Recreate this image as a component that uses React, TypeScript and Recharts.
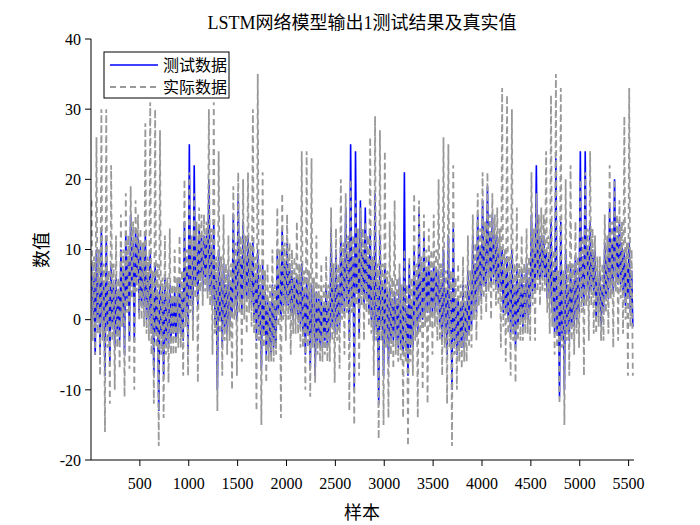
import React from "react";
import { LineChart, Line, XAxis, YAxis, Customized } from "recharts";

// Values, one entry per 50-sample block.
// Each block has a spike high, a spike low and the dense core band for both series.
const actualHigh = [
  17, 26, 30, 30, 22, 12, 15, 18, 19, 17,
  13, 28, 31, 30, 27, 12, 13, 10, 12, 20,
  21, 18, 16, 15, 30, 31, 24, 15,
  12, 19, 21, 20, 21, 30, 35, 21, 8, 10,
  16, 18, 15, 10, 14, 24, 24, 23, 12, 8,
  9, 16, 13, 20, 18, 20, 17, 16,
  14, 26, 29, 27, 24, 14, 17, 8, 10, 9,
  18, 17, 15, 13, 15, 20, 26, 25, 22, 8,
  9, 12, 15, 18, 21, 21, 18, 16,
  33, 32, 30, 16, 12, 13, 21, 18, 16, 24,
  32, 35, 33, 20, 22, 14, 20, 21, 24, 12,
  9, 15, 22, 20, 17, 29, 33,
];
const actualLow = [
  -5, -8, -16, -12, -10, -7, -11, -7, -10, 0,
  -1, -3, -12, -18, -14, -9, -5, -4, -8, -8,
  -3, -9, 2, 3, -5, -13, -8, -5,
  -10, -8, -6, -2, -1, -13, -15, -9, -6, -5,
  -14, -3, -5, -2, -4, -10, -11, -9, -6, -5,
  -6, -9, -7, -5, -13, -15, -8, -3,
  -1, -8, -17, -15, -14, -7, -6, -14, -18, -8,
  -14, -10, -12, -5, -3, -8, -12, -18, -10, -7,
  -6, -4, -3, 0, 1, 0, 2, -4,
  -6, -8, -9, -3, -2, -3, -3, 2, 4, -2,
  -5, -12, -15, -8, -5, -4, -8, -3, -2, -1,
  -3, -2, -4, -3, -2, -8, -8,
];
const actualCoreHigh = [
  9, 10, 8, 7, 8, 6, 10, 12, 14, 15,
  11, 9, 7, 8, 6, 6, 5, 6, 7, 10,
  12, 14, 15, 14, 13, 9, 9, 8,
  8, 11, 12, 12, 11, 9, 8, 7, 5, 5,
  10, 11, 11, 9, 8, 7, 7, 6, 5, 5,
  5, 8, 8, 11, 12, 12, 13, 13,
  12, 9, 8, 8, 7, 6, 6, 5, 5, 6,
  8, 9, 10, 10, 10, 8, 7, 7, 6, 5,
  5, 7, 11, 13, 14, 15, 15, 13,
  10, 9, 8, 8, 8, 9, 13, 15, 15, 12,
  10, 7, 7, 8, 8, 9, 12, 13, 13, 9,
  8, 12, 14, 15, 14, 11, 10,
];
const actualCoreLow = [
  -3, -2, -3, -4, -3, -4, -1, 1, 3, 4,
  0, -2, -5, -4, -5, -5, -5, -5, -4, -1,
  1, 3, 4, 4, 2, -2, -2, -3,
  -3, 0, 1, 0, 1, -2, -3, -4, -6, -6,
  -1, 0, 0, -2, -2, -4, -4, -4, -5, -6,
  -6, -3, -3, 0, 1, 1, 2, 2,
  1, -2, -3, -3, -4, -5, -5, -6, -6, -6,
  -3, -2, -1, -1, -1, -3, -4, -4, -5, -6,
  -6, -4, 0, 2, 3, 4, 4, 2,
  -1, -2, -3, -3, -3, -2, 2, 4, 4, 1,
  -1, -4, -4, -3, -3, -2, 1, 2, 2, -2,
  -3, 1, 3, 4, 3, 0, -1,
];
const testHigh = [
  8, 10, 13, 12, 8, 6, 10, 12, 15, 13,
  11, 12, 10, 8, 5, 6, 5, 4, 6, 14,
  25, 22, 13, 12, 20, 14, 10, 8,
  7, 15, 18, 14, 12, 11, 10, 8, 3, 5,
  10, 13, 11, 7, 6, 8, 6, 5, 4, 3,
  5, 13, 10, 12, 16, 25, 24, 17,
  16, 13, 18, 12, 8, 5, 4, 6, 21, 8,
  10, 16, 12, 9, 8, 7, 10, 12, 13, 3,
  5, 7, 12, 15, 17, 19, 15, 12,
  10, 9, 10, 8, 7, 8, 15, 22, 12, 10,
  14, 23, 14, 10, 8, 9, 24, 24, 14, 10,
  7, 11, 16, 20, 14, 10, 11,
];
const testLow = [
  -5, -5, -8, -6, -4, -3, -5, -3, -3, 1,
  2, 0, -8, -13, -8, -4, -2, -2, -3, -5,
  0, 2, 4, 4, 2, -10, -4, -2,
  1, 0, 1, 3, 2, -3, -7, -5, -5, -4,
  0, 2, 1, 1, -1, -5, -7, -8, -4, -3,
  -3, -2, -1, 1, -3, -10, -2, 2,
  1, -3, -12, -8, -6, -3, -4, -5, -8, -4,
  -2, 0, 1, 1, 2, -3, -5, -10, -5, -4,
  -3, -1, 1, 3, 4, 5, 5, 4,
  1, -2, -4, 0, 0, 1, 4, 5, 6, 3,
  -2, -11, -10, -3, -1, 1, 2, 3, 4, 2,
  1, 3, 4, 5, 4, 3, -1,
];
const testCoreHigh = [
  6, 6, 5, 5, 5, 4, 7, 9, 11, 12,
  8, 6, 4, 4, 4, 3, 3, 3, 4, 7,
  9, 11, 12, 12, 10, 6, 6, 5,
  5, 8, 9, 9, 9, 6, 5, 4, 2, 2,
  7, 8, 8, 6, 6, 4, 4, 4, 3, 2,
  2, 5, 5, 8, 9, 9, 10, 10,
  9, 6, 5, 5, 4, 3, 3, 2, 2, 2,
  5, 6, 7, 7, 7, 5, 4, 4, 3, 2,
  2, 4, 8, 10, 11, 12, 12, 10,
  7, 6, 5, 5, 5, 6, 10, 12, 12, 9,
  7, 4, 4, 5, 5, 6, 9, 10, 10, 6,
  5, 9, 11, 12, 11, 8, 7,
];
const testCoreLow = [
  0, 0, -1, -1, -1, -2, 1, 3, 5, 6,
  2, 0, -2, -2, -2, -3, -3, -3, -2, 1,
  3, 5, 6, 6, 4, 0, 0, -1,
  -1, 2, 3, 3, 3, 0, -1, -2, -4, -4,
  1, 2, 2, 0, 0, -2, -2, -2, -3, -4,
  -4, -1, -1, 2, 3, 3, 4, 4,
  3, 0, -1, -1, -2, -3, -3, -4, -4, -4,
  -1, 0, 1, 1, 1, -1, -2, -2, -3, -4,
  -4, -2, 2, 4, 5, 6, 6, 4,
  1, 0, -1, -1, -1, 0, 4, 6, 6, 3,
  1, -2, -2, -1, -1, 0, 3, 4, 4, 0,
  -1, 3, 5, 6, 5, 2, 1,
];

const BLOCK = 50;
const xTicks = [500, 1000, 1500, 2000, 2500, 3000, 3500, 4000, 4500, 5000, 5500];
const yTicks = [-20, -10, 0, 10, 20, 30, 40];

const rows: { x: number; test: number; actual: number }[] = [];
actualHigh.forEach((_, k) => {
  const s = k * BLOCK;
  rows.push({ x: s + 6, test: testHigh[k], actual: actualHigh[k] });
  rows.push({ x: s + 18, test: testCoreLow[k], actual: actualCoreLow[k] });
  rows.push({ x: s + 31, test: testCoreHigh[k], actual: actualCoreHigh[k] });
  rows.push({ x: s + 43, test: testLow[k], actual: actualLow[k] });
});

const FONT = "'Liberation Serif', 'Times New Roman', 'Noto Sans CJK SC', serif";
const GRAY = "#999999";
const BLUE = "#0000ff";

function Overlay() {
  return (
    <g fontFamily={FONT}>
      <text x={362} y={29} textAnchor="middle" fontSize={18} fill="#000">
        LSTM网络模型输出1测试结果及真实值
      </text>
      <text x={362} y={519} textAnchor="middle" fontSize={18} fill="#000">
        样本
      </text>
      <text
        x={0}
        y={0}
        transform="translate(48,250) rotate(-90)"
        textAnchor="middle"
        fontSize={18}
        fill="#000"
      >
        数值
      </text>
      <rect x={104} y={52} width={125} height={46} fill="#fff" stroke="#000" strokeWidth={1} />
      <line x1={110} y1={65} x2={158} y2={65} stroke={BLUE} strokeWidth={1.5} />
      <text x={163} y={70.5} fontSize={16} fill="#000">测试数据</text>
      <line x1={110} y1={87} x2={158} y2={87} stroke={GRAY} strokeWidth={1.8} strokeDasharray="6 4" />
      <text x={163} y={92.5} fontSize={16} fill="#000">实际数据</text>
    </g>
  );
}

export default function App() {
  return (
    <div style={{ position: "absolute", left: 0, top: 0, width: 700, height: 525, background: "#fff" }}>
      <LineChart
        width={700}
        height={525}
        data={rows}
        margin={{ top: 39, right: 66, bottom: 25, left: 41 }}
      >
        <XAxis
          dataKey="x"
          type="number"
          domain={[0, 5555]}
          ticks={xTicks}
          height={40}
          tickSize={6}
          tickMargin={12}
          axisLine={{ stroke: "#000", strokeWidth: 1 }}
          tickLine={{ stroke: "#000", strokeWidth: 1 }}
          tick={{ fill: "#000", fontSize: 16, fontFamily: FONT }}
          allowDataOverflow
        />
        <YAxis
          type="number"
          domain={[-20, 40]}
          ticks={yTicks}
          width={50}
          tickSize={6}
          tickMargin={4}
          axisLine={{ stroke: "#000", strokeWidth: 1 }}
          tickLine={{ stroke: "#000", strokeWidth: 1 }}
          tick={{ fill: "#000", fontSize: 16, fontFamily: FONT }}
          allowDataOverflow
        />
        <Line
          type="linear"
          dataKey="test"
          stroke={BLUE}
          strokeWidth={1.6}
          dot={false}
          isAnimationActive={false}
        />
        <Line
          type="linear"
          dataKey="actual"
          stroke={GRAY}
          strokeWidth={1.8}
          strokeDasharray="6 4"
          dot={false}
          isAnimationActive={false}
        />
        <Customized component={<Overlay />} />
      </LineChart>
    </div>
  );
}
